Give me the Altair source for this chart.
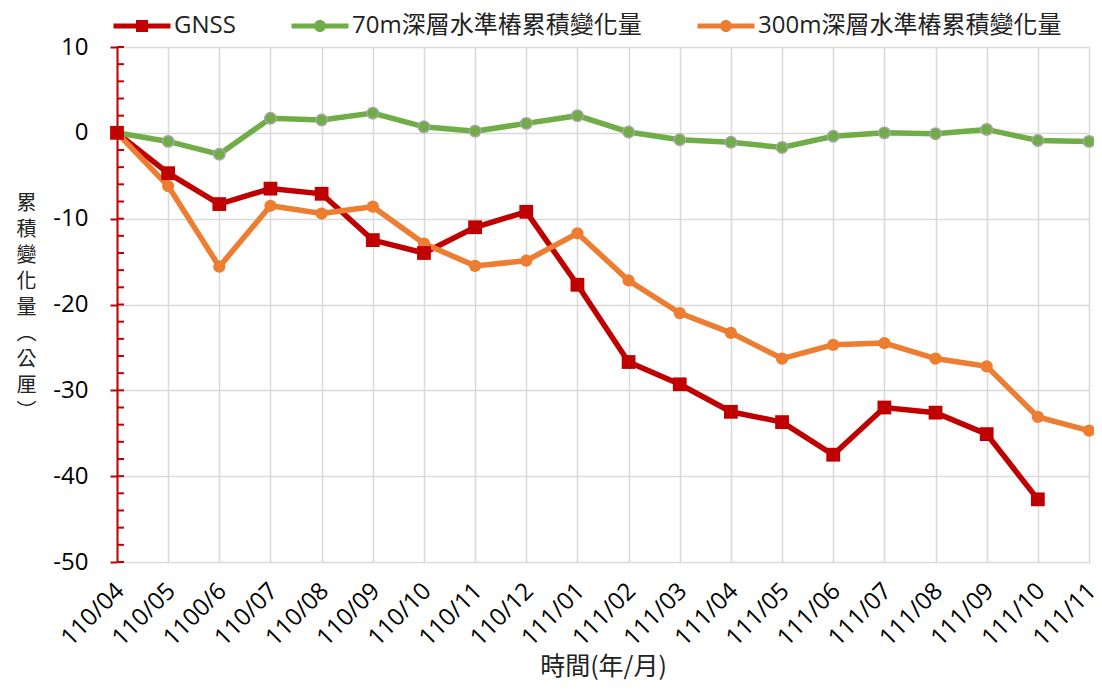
import altair as alt
import pandas as pd

months = ["110/04", "110/05", "1100/6", "110/07", "110/08", "110/09", "110/10",
          "110/11", "110/12", "111/01", "111/02", "111/03", "111/04", "111/05",
          "111/06", "111/07", "111/08", "111/09", "111/10", "111/11"]
gnss = [0, -4.7, -8.3, -6.5, -7.1, -12.5, -14.0, -11.0, -9.2, -17.7, -26.7,
        -29.3, -32.5, -33.7, -37.5, -32.0, -32.6, -35.1, -42.7, None]
w70 = [0, -1.0, -2.5, 1.7, 1.5, 2.3, 0.7, 0.2, 1.1, 2.0, 0.1, -0.8, -1.1,
       -1.7, -0.4, 0.0, -0.1, 0.4, -0.9, -1.0]
w300 = [0, -6.2, -15.6, -8.5, -9.4, -8.6, -12.9, -15.5, -14.9, -11.7, -17.2,
        -21.0, -23.3, -26.3, -24.7, -24.5, -26.3, -27.2, -33.1, -34.7]
series = ["GNSS", "70m深層水準樁累積變化量", "300m深層水準樁累積變化量"]
colors = ["#C00000", "#70AD47", "#ED7D31"]
y_ticks = [-50, -40, -30, -20, -10, 0, 10]
y_minor = [-50, -48, -46, -44, -42, -40, -38, -36, -34, -32, -30, -28, -26,
           -24, -22, -20, -18, -16, -14, -12, -10, -8, -6, -4, -2, 0, 2, 4,
           6, 8, 10]

rows = []
for name, vals in zip(series, [gnss, w70, w300]):
    for m, v in zip(months, vals):
        if v is not None:
            rows.append({"month": m, "value": v, "series": name})
df = pd.DataFrame(rows)
ticks_df = pd.DataFrame({"value": y_minor})

FONT = "Open Sans, Noto Sans CJK TC"
CJK = "Noto Sans CJK TC, Open Sans"

color_scale = alt.Scale(domain=series, range=colors)
y_scale = alt.Scale(domain=[-50, 10], nice=False, zero=False)

x_enc = alt.X("month:N", sort=months,
              scale=alt.Scale(type="point", padding=0),
              axis=alt.Axis(title="時間(年/月)", labelAngle=-45, grid=True,
                            gridColor="#D9D9D9", gridWidth=1.5,
                            domain=False, ticks=False,
                            labelFont=FONT, labelFontSize=24, labelColor="#000",
                            labelAlign="right", labelBaseline="middle",
                            labelPadding=25, labelOffset=3,
                            titleFont=CJK, titleFontSize=25, titleColor="#222",
                            titleFontWeight="normal", titlePadding=4))
y_axis = alt.Axis(values=y_ticks, grid=True, gridColor="#D9D9D9",
                  gridWidth=1.5, domainColor="#C00000",
                  domainWidth=2, tickColor="#C00000", tickWidth=2,
                  tickSize=7, labelFont=FONT, labelFontSize=24,
                  labelColor="#000", labelPadding=22,
                  labelExpr="replace(datum.label, '\u2212', '-')",
                  title=["累", "積", "變", "化", "量", "︵", "公", "厘", "︶"],
                  titleAngle=0, titleFont=CJK, titleFontSize=20,
                  titleLineHeight=26, titleFontWeight="normal",
                  titleColor="#222", titleAlign="center",
                  titleBaseline="middle", titleX=-91, titleY=156)
y_enc = alt.Y("value:Q", scale=y_scale, axis=y_axis)

legend = alt.Legend(title=None, orient="none", direction="horizontal",
                    legendX=13, legendY=-33,
                    symbolSize=400, symbolOpacity=1,
                    labelFont=FONT, labelFontSize=24, labelLimit=500,
                    labelColor="#222", labelOffset=20,
                    columnPadding=55, symbolStrokeWidth=0)
col_enc = alt.Color("series:N", scale=color_scale, legend=legend)

lines = alt.Chart(df).mark_line(strokeWidth=5.5).encode(
    x=x_enc, y=y_enc, color=col_enc, detail="series:N",
)

squares = alt.Chart(df).transform_filter(
    alt.datum.series == "GNSS"
).mark_square(size=190, opacity=1).encode(
    x=x_enc, y=y_enc, color=col_enc,
)

green_pts = alt.Chart(df).transform_filter(
    alt.datum.series == series[1]
).mark_circle(size=130, opacity=1, stroke="#A5A5A5", strokeWidth=1.5).encode(
    x=x_enc, y=y_enc, color=col_enc,
)

orange_pts = alt.Chart(df).transform_filter(
    alt.datum.series == series[2]
).mark_circle(size=150, opacity=1).encode(
    x=x_enc, y=y_enc, color=col_enc,
)

sq_path = "M-2.85,-0.25H2.85V0.25H-2.85Z M-0.6,-0.6H0.6V0.6H-0.6Z"
circ_path = ("M-2.85,-0.25H2.85V0.25H-2.85Z M-0.6,0A0.6,0.6 0 1,1 0.6,0"
             "A0.6,0.6 0 1,1 -0.6,0Z")

legend_layer = alt.Chart(df).transform_filter("false").mark_point(
    filled=True, opacity=1
).encode(
    x=x_enc, y=y_enc, color=col_enc,
    shape=alt.Shape("series:N",
                    scale=alt.Scale(domain=series,
                                    range=[sq_path, circ_path, circ_path]),
                    legend=legend),
)

minor = alt.Chart(ticks_df).mark_rule(color="#C00000", strokeWidth=2).encode(
    y=y_enc, x=alt.value(0), x2=alt.value(7),
)

chart = alt.layer(lines, green_pts, orange_pts, squares, minor, legend_layer).properties(
    width=972, height=515,
    autosize=alt.AutoSizeParams(type="none"),
    padding={"top": 39, "left": 109, "right": 5, "bottom": 120},
).configure_view(stroke=None).configure(background="white")

chart.save("out.html", embed_options={"renderer": "svg", "actions": False})
